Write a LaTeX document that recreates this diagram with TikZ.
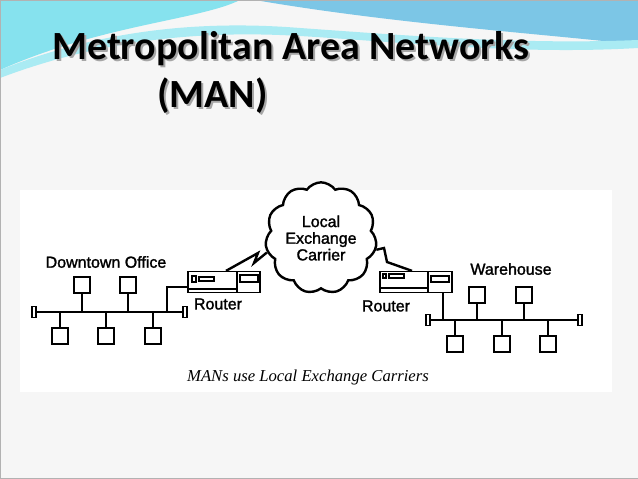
\documentclass[tikz,border=0pt]{standalone}
\usepackage{fontspec}
\setmainfont{Liberation Serif}
\newfontfamily\titlefont{Carlito}
\newfontfamily\diafont[FakeBold=1.5]{Liberation Sans}
\usetikzlibrary{shapes.symbols}
\definecolor{slidebg}{HTML}{F6F6F6}
\definecolor{cyanw}{HTML}{86E2EE}
\definecolor{bluew}{HTML}{7CC6E6}
\tikzset{
  wire/.style={line width=2pt},
  pc/.style={draw,line width=1.6pt,fill=white,minimum width=12.5pt,minimum height=12.5pt,inner sep=0pt},
  term/.style={draw,line width=1.2pt,fill=white,minimum width=3pt,minimum height=8pt,inner sep=0pt},
  lbl/.style={font=\diafont\fontsize{12}{13}\selectfont,inner sep=0pt},
  bolt/.style={line width=1.8pt},
  router/.style={draw,line width=1.2pt,fill=white,minimum width=54pt,minimum height=15.5pt,inner sep=0pt}
}
\begin{document}
\begin{tikzpicture}[x=0.75pt,y=-0.75pt]
\useasboundingbox (0,0) rectangle (638,478);
\fill[slidebg] (0,0) rectangle (638,478);
% waves
\fill[cyanw] (0,0) -- (240,0) .. controls (200,20) and (100,25) .. (0,70) -- cycle;
\fill[bluew] (255,0) -- (638,0) -- (638,45) .. controls (560,35) and (400,25) .. (255,0) -- cycle;
\fill[cyanw!70] (0,70) .. controls (100,30) and (200,20) .. (300,28) .. controls (400,35) and (520,45) .. (638,40) -- (638,48) .. controls (520,55) and (400,42) .. (300,36) .. controls (200,30) and (100,40) .. (0,78) -- cycle;
\draw[gray!60] (0,0) rectangle (638,478);
% title
\node[anchor=base west,inner sep=0pt,text=gray!70] at (54,62) {\titlefont\bfseries\fontsize{30}{32}\selectfont Metropolitan Area Networks};
\node[anchor=base west,inner sep=0pt] (title) at (52,60) {\titlefont\bfseries\fontsize{30}{32}\selectfont Metropolitan Area Networks};
\node[anchor=base west,inner sep=0pt,text=gray!70] at (159,109) {\titlefont\bfseries\fontsize{30}{32}\selectfont (MAN)};
\node[anchor=base west,inner sep=0pt] (man) at (157,107) {\titlefont\bfseries\fontsize{30}{32}\selectfont (MAN)};
% diagram panel
\fill[white] (20,190) rectangle (612,392);
% left LAN
\node[term] (lt1) at (34,312) {};
\node[term] (lt2) at (185,312) {};
\draw[wire] (lt1) -- (lt2);
\foreach \n/\x in {a/82,b/128}{
  \node[pc] (l\n) at (\x,285) {};
  \draw[wire] (l\n.south) -- (\x,312);
}
\foreach \n/\x in {c/60,d/106,e/153}{
  \node[pc] (l\n) at (\x,336) {};
  \draw[wire] (l\n.north) -- (\x,312);
}
\node[lbl] (dto) at (106,262) {Downtown Office};
% left router
\node[router] (r1) at (224,282) {};
\coordinate (r1in) at (167,312);
\draw[wire] (r1in) |- (r1.west |- 0,287);
\draw[line width=0.8pt] (192,276) rectangle (196,282);
\draw[line width=0.8pt] (199,277) rectangle (214,281);
\draw[line width=1.2pt] (237,272) -- (237,292);
\draw[line width=0.8pt] (240,275) rectangle (258,282);
\draw[line width=1.5pt] (188,289) -- (237,289);
\node[lbl] (rl1) at (218,304) {Router};
% right router
\node[router] (r2) at (416,282) {};
\draw[line width=0.8pt] (383,274) rectangle (386,278);
\draw[line width=0.8pt] (389,274) rectangle (404,278);
\draw[line width=1.2pt] (428,271) -- (428,293);
\draw[line width=0.8pt] (431,276) rectangle (449,282);
\draw[line width=1.5pt] (380,288) -- (428,288);
\node[lbl] (rl2) at (386,306) {Router};
% cloud
\node[cloud,cloud puffs=11,cloud puff arc=110,draw,line width=1.8pt,fill=white,minimum width=64pt,minimum height=66pt,inner sep=0pt,align=center,font=\diafont\fontsize{12}{12.5}\selectfont] (lec) at (321,238) {Local\\Exchange\\Carrier};
% bolts
\coordinate (b1a) at (258,253);
\coordinate (b1b) at (254,263);
\draw[bolt] (r1.north) ++(2,0) coordinate (b1s) -- (b1a) -- (b1b) -- (lec.195);
\coordinate (b2a) at (387,262);
\coordinate (b2b) at (384,248);
\draw[bolt] (lec.-12) -- (b2b) -- (b2a) -- ([xshift=-3pt]r2.north);
% right LAN
\node[term] (rt1) at (428,320) {};
\node[term] (rt2) at (580,320) {};
\draw[wire] (rt1) -- (rt2);
\draw[wire] (r2.south -| 443,0) -- (443,320);
\foreach \n/\x in {a/477,b/524}{
  \node[pc] (r\n) at (\x,295) {};
  \draw[wire] (r\n.south) -- (\x,320);
}
\foreach \n/\x in {c/455,d/502,e/548}{
  \node[pc] (r\n) at (\x,344) {};
  \draw[wire] (r\n.north) -- (\x,320);
}
\node[lbl] (wh) at (511,269) {Warehouse};
\node[font=\itshape\fontsize{12.5}{14}\selectfont,inner sep=0pt] (cap) at (308,377) {MANs use Local Exchange Carriers};
\end{tikzpicture}
\end{document}
